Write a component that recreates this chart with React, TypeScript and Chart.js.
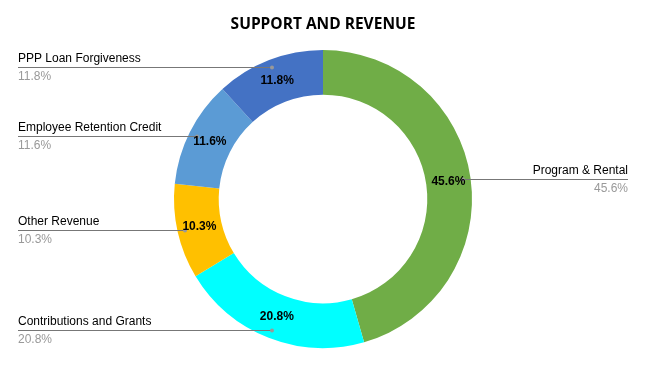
import React, { useEffect, useRef } from "react";
import { Chart, registerables } from "chart.js";

Chart.register(...registerables);

const TITLE = "SUPPORT AND REVENUE";
const categories = [
  "Program & Rental",
  "Contributions and Grants",
  "Other Revenue",
  "Employee Retention Credit",
  "PPP Loan Forgiveness",
];
const values = [45.6, 20.8, 10.3, 11.6, 11.8];
const colors = ["#70AD47", "#00FFFF", "#FFC000", "#5B9BD5", "#4472C4"];

const labelPlugin = {
  id: "labelPlugin",
  afterDraw(chart: any) {
    const ctx = chart.ctx as CanvasRenderingContext2D;
    const meta = chart.getDatasetMeta(0);
    const total = values.reduce((a, b) => a + b, 0);
    ctx.save();
    // title
    ctx.fillStyle = "#000";
    ctx.font = "bold 15.5px 'Open Sans'";
    ctx.textAlign = "center";
    ctx.textBaseline = "middle";
    ctx.fillText(TITLE, chart.width / 2, 25);

    meta.data.forEach((arc: any, i: number) => {
      const p = arc.getProps(["x", "y", "startAngle", "endAngle", "outerRadius", "innerRadius"], true);
      const mid = (p.startAngle + p.endAngle) / 2;
      const pct = ((values[i] / total) * 100).toFixed(1) + "%";
      // leader
      const dr = p.outerRadius * 0.947;
      const dx = Math.round(p.x + Math.cos(mid) * dr);
      const dy = Math.round(p.y + Math.sin(mid) * dr) + 0.5;
      const right = Math.cos(mid) > 0;
      const ex = right ? 628 : 18;
      ctx.strokeStyle = "#777";
      ctx.lineWidth = 1;
      ctx.beginPath();
      ctx.moveTo(dx, dy);
      ctx.lineTo(ex, dy);
      ctx.stroke();
      ctx.fillStyle = "#999";
      ctx.beginPath();
      ctx.arc(dx, dy, 2, 0, Math.PI * 2);
      ctx.fill();
      ctx.textBaseline = "middle";
      ctx.textAlign = right ? "right" : "left";
      ctx.font = "12px 'Liberation Sans'";
      ctx.fillStyle = "#000";
      ctx.fillText(categories[i], ex, dy - 9);
      ctx.fillStyle = "#999";
      ctx.fillText(pct, ex, dy + 9);
      // inner label
      const lr = p.outerRadius * 0.85;
      const lx = p.x + Math.cos(mid) * lr;
      const ly = p.y + Math.sin(mid) * lr;
      ctx.font = "bold 12px 'Liberation Sans'";
      ctx.fillStyle = "#000";
      ctx.textAlign = "center";
      ctx.fillText(pct, lx, ly);
    });
    ctx.restore();
  },
};

export default function App() {
  const ref = useRef<HTMLCanvasElement | null>(null);
  useEffect(() => {
    document.body.style.margin = "0";
    const chart = new Chart(ref.current!, {
      type: "doughnut",
      data: {
        labels: categories,
        datasets: [
          {
            data: values,
            backgroundColor: colors,
            borderWidth: 0,
          },
        ],
      },
      options: {
        responsive: false,
        animation: false,
        cutout: "70%",
        layout: { padding: { top: 50, bottom: 17, left: 174, right: 174 } },
        plugins: {
          legend: { display: false },
          title: { display: false },
          tooltip: { enabled: false },
        },
      },
      plugins: [labelPlugin],
    });
    return () => chart.destroy();
  }, []);
  return (
    <div style={{ width: 646, height: 365, background: "#fff" }}>
      <canvas ref={ref} width={646} height={365} />
    </div>
  );
}
